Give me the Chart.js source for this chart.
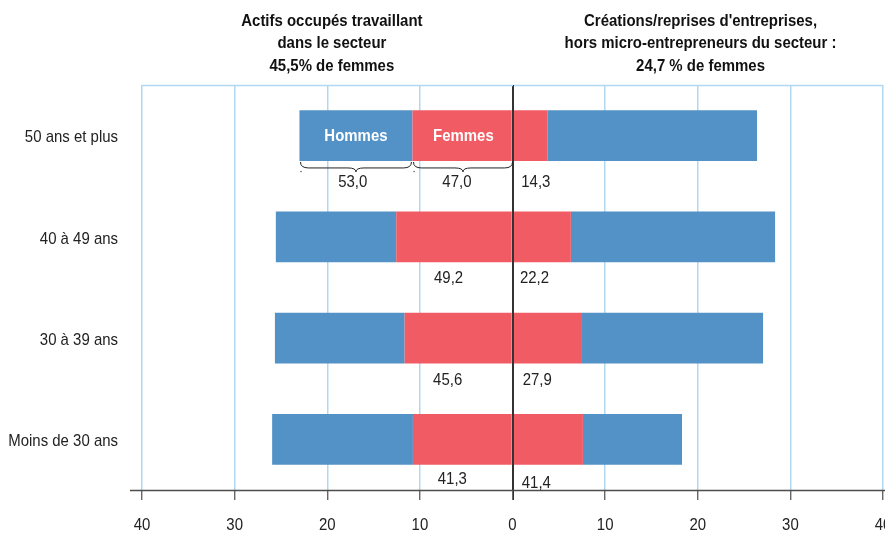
<!DOCTYPE html>
<html><head><meta charset="utf-8">
<script src="https://cdn.jsdelivr.net/npm/chart.js@4/dist/chart.umd.min.js"></script>
<style>html,body{margin:0;padding:0;background:#fff}#wrap{width:885px;height:533px;position:relative}</style>
</head><body><div id="wrap"><canvas id="c" width="885" height="533"></canvas></div>
<script>
const categories = ['50 ans et plus', '40 à 49 ans', '30 à 39 ans', 'Moins de 30 ans'];
const actifsFemmes = [10.8, 12.55, 11.65, 10.75];
const actifsHommes = [12.2, 13.0, 14.0, 15.2];
const creationsFemmes = [3.8, 6.3, 7.5, 7.6];
const creationsHommes = [22.6, 22.05, 19.55, 10.7];
const partFemmesActifs = ['47,0', '49,2', '45,6', '41,3'];
const partHommesActifs = ['53,0', '', '', ''];
const partFemmesCreations = ['14,3', '22,2', '27,9', '41,4'];
const titreGauche = ['Actifs occupés travaillant', 'dans le secteur', '45,5% de femmes'];
const titreDroite = ['Créations/reprises d\'entreprises,', 'hors micro-entrepreneurs du secteur :', '24,7 % de femmes'];
const xTicks = [-40, -30, -20, -10, 0, 10, 20, 30, 40];

// styling / placement (not data)
const FONT = '"Liberation Sans", Arial, sans-serif';
const SX = 0.88;
const BLUE = '#5392c6';
const RED = '#f15c64';
const GRID = '#b0d8f3';
const DARK = '#333333';
const labelXActifs = [-6.0, -6.9, -7.0, -6.5];
const labelXCreations = [0.95, 0.8, 1.1, 1.0];
const labelDy = [21, 16, 17, 15];
const labelDyRight = [21, 16, 17, 19];

function txt(ctx, s, x, y, align) {
  ctx.save();
  ctx.translate(x, y);
  ctx.scale(SX, 1);
  ctx.textAlign = align;
  ctx.fillText(s, 0, 0);
  ctx.restore();
}

const overlay = {
  id: 'overlay',
  afterDatasetsDraw(chart) {
    const ctx = chart.ctx, x = chart.scales.x, y = chart.scales.y, a = chart.chartArea;
    ctx.save();
    ctx.textBaseline = 'middle';
    // top border
    ctx.strokeStyle = GRID; ctx.lineWidth = 1.5;
    ctx.beginPath(); ctx.moveTo(a.left, a.top + 0.5); ctx.lineTo(a.right, a.top + 0.5); ctx.stroke();
    // zero line
    const x0 = Math.round(x.getPixelForValue(0)) + 0.5;
    ctx.strokeStyle = DARK; ctx.lineWidth = 1;
    ctx.beginPath(); ctx.moveTo(x0, a.top); ctx.lineTo(x0, a.bottom + 10); ctx.stroke();
    // bottom axis line
    ctx.strokeStyle = '#4d4d4d'; ctx.lineWidth = 1.4;
    ctx.beginPath(); ctx.moveTo(130, a.bottom + 0.5); ctx.lineTo(885, a.bottom + 0.5); ctx.stroke();

    // x tick labels
    ctx.fillStyle = '#222';
    ctx.font = '17px ' + FONT;
    xTicks.forEach(v => txt(ctx, String(Math.abs(v)), x.getPixelForValue(v), a.bottom + 35, 'center'));
    // y category labels
    categories.forEach((c, i) => txt(ctx, c, 118, y.getPixelForValue(i) + 2, 'right'));

    const meta = chart.getDatasetMeta(0);
    const bh = meta.data[0].height;
    categories.forEach((c, i) => {
      const yb = y.getPixelForValue(i) + bh / 2;
      txt(ctx, partFemmesActifs[i], x.getPixelForValue(labelXActifs[i]), yb + labelDy[i], 'center');
      if (partHommesActifs[i]) {
        txt(ctx, partHommesActifs[i], x.getPixelForValue(-(actifsFemmes[i] + actifsHommes[i] / 2) - 0.35), yb + labelDy[i], 'center');
      }
      txt(ctx, partFemmesCreations[i], x.getPixelForValue(labelXCreations[i]), yb + labelDyRight[i], 'left');
    });
    // labels inside first bar
    const yc0 = y.getPixelForValue(0);
    ctx.fillStyle = '#fff';
    ctx.font = 'bold 17px ' + FONT;
    txt(ctx, 'Hommes', x.getPixelForValue(-(actifsFemmes[0] + actifsHommes[0] / 2)), yc0 + 1, 'center');
    txt(ctx, 'Femmes', x.getPixelForValue(-actifsFemmes[0] / 2 + 0.1), yc0 + 1, 'center');
    // braces
    const yb0 = yc0 + bh / 2 + 1;
    ctx.strokeStyle = '#222'; ctx.lineWidth = 1;
    const brace = (x1, x2, yy, h) => {
      const xm = (x1 + x2) / 2, q = h * 0.6;
      ctx.beginPath();
      ctx.moveTo(x1, yy);
      ctx.quadraticCurveTo(x1, yy + q, x1 + 8, yy + q);
      ctx.lineTo(xm - 8, yy + q);
      ctx.quadraticCurveTo(xm, yy + q, xm, yy + h);
      ctx.quadraticCurveTo(xm, yy + q, xm + 8, yy + q);
      ctx.lineTo(x2 - 8, yy + q);
      ctx.quadraticCurveTo(x2, yy + q, x2, yy);
      ctx.stroke();
    };
    const xL = x.getPixelForValue(-(actifsFemmes[0] + actifsHommes[0]));
    const xM = x.getPixelForValue(-actifsFemmes[0]);
    brace(xL + 1, xM - 1, yb0, 10);
    brace(xM + 1, x0 - 1, yb0, 10);
    ctx.fillStyle = '#444';
    ctx.fillRect(xL + 1, yb0 + 9, 1.2, 1.2);
    ctx.fillRect(xM + 1, yb0 + 9, 1.2, 1.2);
    // titles
    ctx.fillStyle = '#111';
    ctx.font = 'bold 17px ' + FONT;
    titreGauche.forEach((t, k) => txt(ctx, t, x.getPixelForValue(-19.5), 21 + k * 22.7, 'center'));
    titreDroite.forEach((t, k) => txt(ctx, t, x.getPixelForValue(20.3), 21 + k * 22.7, 'center'));
    ctx.restore();
  }
};

new Chart(document.getElementById('c'), {
  type: 'bar',
  data: {
    labels: categories,
    datasets: [
      { label: 'Actifs femmes', data: actifsFemmes.map(v => -v), backgroundColor: RED, stack: 's' },
      { label: 'Actifs hommes', data: actifsHommes.map(v => -v), backgroundColor: BLUE, stack: 's' },
      { label: 'Créations femmes', data: creationsFemmes, backgroundColor: RED, stack: 's' },
      { label: 'Créations hommes', data: creationsHommes, backgroundColor: BLUE, stack: 's' }
    ]
  },
  options: {
    indexAxis: 'y',
    responsive: false,
    animation: false,
    events: [],
    layout: { padding: { top: 85, right: 2, left: 0, bottom: 0 } },
    datasets: { bar: { barPercentage: 0.5, categoryPercentage: 1, borderWidth: 0 } },
    plugins: { legend: { display: false }, tooltip: { enabled: false } },
    scales: {
      x: {
        stacked: true, min: -40, max: 40,
        afterBuildTicks(s) { s.ticks = xTicks.map(v => ({ value: v })); },
        afterFit(s) { s.height = 43; s.paddingLeft = 0; s.paddingRight = 0; },
        ticks: { display: false },
        grid: { color: c => (c.tick && c.tick.value === 0) ? DARK : GRID, lineWidth: 1.5, tickColor: '#4d4d4d', tickLength: 10, tickWidth: 1.2 },
        border: { display: false }
      },
      y: {
        stacked: true,
        afterFit(s) { s.width = 142; },
        ticks: { display: false },
        grid: { display: false },
        border: { display: false }
      }
    }
  },
  plugins: [overlay]
});
</script></body></html>
